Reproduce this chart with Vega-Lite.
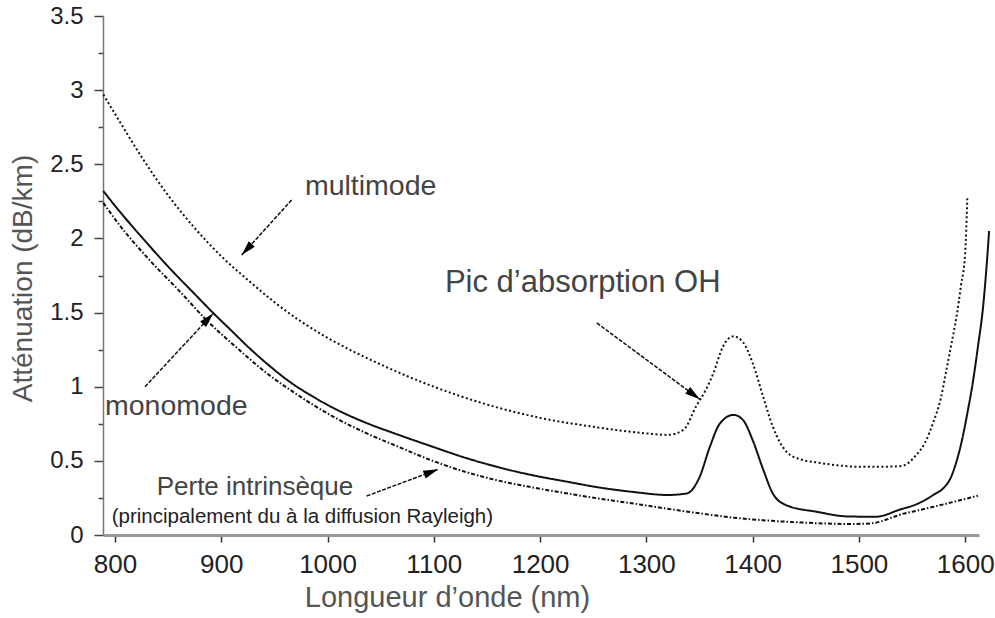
{
  "$schema": "https://vega.github.io/schema/vega-lite/v6.json",
  "width": 876,
  "height": 519,
  "autosize": {"type": "none"},
  "padding": {"left": 103, "top": 16, "right": 16, "bottom": 83},
  "background": "white",
  "config": {"view": {"stroke": null}, "font": "Liberation Sans"},
  "datasets": {
    "curves": [
      {"series": "multimode", "wl": 789, "att": 2.97},
      {"series": "multimode", "wl": 800, "att": 2.84},
      {"series": "multimode", "wl": 825, "att": 2.55},
      {"series": "multimode", "wl": 850, "att": 2.29},
      {"series": "multimode", "wl": 875, "att": 2.07},
      {"series": "multimode", "wl": 900, "att": 1.88},
      {"series": "multimode", "wl": 925, "att": 1.72},
      {"series": "multimode", "wl": 950, "att": 1.57},
      {"series": "multimode", "wl": 975, "att": 1.44},
      {"series": "multimode", "wl": 1000, "att": 1.33},
      {"series": "multimode", "wl": 1050, "att": 1.15},
      {"series": "multimode", "wl": 1100, "att": 1.0},
      {"series": "multimode", "wl": 1150, "att": 0.88},
      {"series": "multimode", "wl": 1200, "att": 0.79},
      {"series": "multimode", "wl": 1250, "att": 0.73},
      {"series": "multimode", "wl": 1300, "att": 0.685},
      {"series": "multimode", "wl": 1320, "att": 0.675},
      {"series": "multimode", "wl": 1335, "att": 0.71},
      {"series": "multimode", "wl": 1347, "att": 0.87},
      {"series": "multimode", "wl": 1356, "att": 0.98},
      {"series": "multimode", "wl": 1363, "att": 1.09},
      {"series": "multimode", "wl": 1372, "att": 1.27},
      {"series": "multimode", "wl": 1382, "att": 1.34},
      {"series": "multimode", "wl": 1391, "att": 1.3},
      {"series": "multimode", "wl": 1400, "att": 1.16},
      {"series": "multimode", "wl": 1410, "att": 0.93},
      {"series": "multimode", "wl": 1419, "att": 0.73},
      {"series": "multimode", "wl": 1432, "att": 0.56},
      {"series": "multimode", "wl": 1445, "att": 0.51},
      {"series": "multimode", "wl": 1460, "att": 0.49},
      {"series": "multimode", "wl": 1480, "att": 0.47},
      {"series": "multimode", "wl": 1500, "att": 0.46},
      {"series": "multimode", "wl": 1520, "att": 0.46},
      {"series": "multimode", "wl": 1540, "att": 0.465},
      {"series": "multimode", "wl": 1554, "att": 0.54},
      {"series": "multimode", "wl": 1562, "att": 0.62},
      {"series": "multimode", "wl": 1570, "att": 0.76},
      {"series": "multimode", "wl": 1577, "att": 0.92},
      {"series": "multimode", "wl": 1582, "att": 1.1},
      {"series": "multimode", "wl": 1586, "att": 1.25},
      {"series": "multimode", "wl": 1592, "att": 1.48},
      {"series": "multimode", "wl": 1596, "att": 1.68},
      {"series": "multimode", "wl": 1600, "att": 1.9},
      {"series": "multimode", "wl": 1602, "att": 2.27},
      {"series": "monomode", "wl": 789, "att": 2.32},
      {"series": "monomode", "wl": 800, "att": 2.22},
      {"series": "monomode", "wl": 825, "att": 2.01},
      {"series": "monomode", "wl": 850, "att": 1.81},
      {"series": "monomode", "wl": 875, "att": 1.625},
      {"series": "monomode", "wl": 892, "att": 1.5},
      {"series": "monomode", "wl": 910, "att": 1.375},
      {"series": "monomode", "wl": 925, "att": 1.27},
      {"series": "monomode", "wl": 943, "att": 1.155},
      {"series": "monomode", "wl": 965, "att": 1.03},
      {"series": "monomode", "wl": 987, "att": 0.93},
      {"series": "monomode", "wl": 1010, "att": 0.84},
      {"series": "monomode", "wl": 1035, "att": 0.76},
      {"series": "monomode", "wl": 1065, "att": 0.68},
      {"series": "monomode", "wl": 1097, "att": 0.6},
      {"series": "monomode", "wl": 1130, "att": 0.52},
      {"series": "monomode", "wl": 1162, "att": 0.455},
      {"series": "monomode", "wl": 1195, "att": 0.4},
      {"series": "monomode", "wl": 1225, "att": 0.36},
      {"series": "monomode", "wl": 1256, "att": 0.32},
      {"series": "monomode", "wl": 1288, "att": 0.29},
      {"series": "monomode", "wl": 1320, "att": 0.27},
      {"series": "monomode", "wl": 1338, "att": 0.28},
      {"series": "monomode", "wl": 1350, "att": 0.39},
      {"series": "monomode", "wl": 1360, "att": 0.6},
      {"series": "monomode", "wl": 1369, "att": 0.75},
      {"series": "monomode", "wl": 1382, "att": 0.81},
      {"series": "monomode", "wl": 1391, "att": 0.775},
      {"series": "monomode", "wl": 1400, "att": 0.64},
      {"series": "monomode", "wl": 1410, "att": 0.44},
      {"series": "monomode", "wl": 1419, "att": 0.28},
      {"series": "monomode", "wl": 1432, "att": 0.2},
      {"series": "monomode", "wl": 1460, "att": 0.157},
      {"series": "monomode", "wl": 1490, "att": 0.125},
      {"series": "monomode", "wl": 1516, "att": 0.123},
      {"series": "monomode", "wl": 1538, "att": 0.17},
      {"series": "monomode", "wl": 1555, "att": 0.21},
      {"series": "monomode", "wl": 1570, "att": 0.27},
      {"series": "monomode", "wl": 1580, "att": 0.32},
      {"series": "monomode", "wl": 1586, "att": 0.38},
      {"series": "monomode", "wl": 1592, "att": 0.5},
      {"series": "monomode", "wl": 1597, "att": 0.64},
      {"series": "monomode", "wl": 1602, "att": 0.82},
      {"series": "monomode", "wl": 1607, "att": 1.02},
      {"series": "monomode", "wl": 1612, "att": 1.27},
      {"series": "monomode", "wl": 1617, "att": 1.55},
      {"series": "monomode", "wl": 1620, "att": 1.8},
      {"series": "monomode", "wl": 1622.5, "att": 2.05},
      {"series": "rayleigh", "wl": 789, "att": 2.24},
      {"series": "rayleigh", "wl": 800, "att": 2.13},
      {"series": "rayleigh", "wl": 833, "att": 1.85},
      {"series": "rayleigh", "wl": 860, "att": 1.65},
      {"series": "rayleigh", "wl": 886, "att": 1.45},
      {"series": "rayleigh", "wl": 915, "att": 1.26},
      {"series": "rayleigh", "wl": 943, "att": 1.09},
      {"series": "rayleigh", "wl": 974, "att": 0.935},
      {"series": "rayleigh", "wl": 987, "att": 0.875},
      {"series": "rayleigh", "wl": 1010, "att": 0.78},
      {"series": "rayleigh", "wl": 1037, "att": 0.685},
      {"series": "rayleigh", "wl": 1065, "att": 0.6},
      {"series": "rayleigh", "wl": 1099, "att": 0.5},
      {"series": "rayleigh", "wl": 1130, "att": 0.425},
      {"series": "rayleigh", "wl": 1162, "att": 0.365},
      {"series": "rayleigh", "wl": 1195, "att": 0.318},
      {"series": "rayleigh", "wl": 1225, "att": 0.281},
      {"series": "rayleigh", "wl": 1256, "att": 0.245},
      {"series": "rayleigh", "wl": 1288, "att": 0.212},
      {"series": "rayleigh", "wl": 1319, "att": 0.178},
      {"series": "rayleigh", "wl": 1350, "att": 0.146},
      {"series": "rayleigh", "wl": 1382, "att": 0.117},
      {"series": "rayleigh", "wl": 1415, "att": 0.097},
      {"series": "rayleigh", "wl": 1444, "att": 0.085},
      {"series": "rayleigh", "wl": 1470, "att": 0.077},
      {"series": "rayleigh", "wl": 1492, "att": 0.074},
      {"series": "rayleigh", "wl": 1510, "att": 0.078},
      {"series": "rayleigh", "wl": 1520, "att": 0.09},
      {"series": "rayleigh", "wl": 1530, "att": 0.115},
      {"series": "rayleigh", "wl": 1540, "att": 0.14},
      {"series": "rayleigh", "wl": 1555, "att": 0.165},
      {"series": "rayleigh", "wl": 1570, "att": 0.19},
      {"series": "rayleigh", "wl": 1590, "att": 0.225},
      {"series": "rayleigh", "wl": 1612, "att": 0.265}
    ],
    "arrows": [
      {"arrow": "multimode", "wl": 966.2, "att": 2.259, "wl2": 919.2, "att2": 1.888},
      {"arrow": "monomode", "wl": 828.2, "att": 1.0, "wl2": 892.5, "att2": 1.495},
      {"arrow": "oh", "wl": 1253.4, "att": 1.43, "wl2": 1350.3, "att2": 0.915},
      {"arrow": "perte", "wl": 1036.8, "att": 0.263, "wl2": 1104.2, "att2": 0.443}
    ],
    "labels": [
      {"label": "multimode", "kind": "mid", "wl": 978.7, "att": 2.293},
      {"label": "monomode", "kind": "mid", "wl": 790.6, "att": 0.809},
      {"label": "Pic d’absorption OH", "kind": "big", "wl": 1110.4, "att": 1.639},
      {"label": "Perte intrinsèque", "kind": "small", "wl": 839.2, "att": 0.27}
    ],
    "notes": [
      {"label": "(principalement du à la diffusion Rayleigh)", "wl": 796.9, "att": 0.081}
    ]
  },
  "encoding": {
    "x": {
      "field": "wl", "type": "quantitative",
      "scale": {"domain": [788.7, 1613], "nice": false, "zero": false},
      "axis": {
        "title": "Longueur d’onde (nm)",
        "values": [800, 900, 1000, 1100, 1200, 1300, 1400, 1500, 1600],
        "format": "d",
        "grid": false,
        "labelFont": "Liberation Sans", "labelFontSize": 26, "labelColor": "#222",
        "labelPadding": 9, "labelFlush": false, "labelOverlap": false,
        "tickSize": 7, "tickWidth": 1.5, "tickColor": "#333",
        "domainColor": "#999", "domainWidth": 3,
        "titleFont": "Liberation Sans", "titleFontSize": 29, "titleFontWeight": "normal", "titleColor": "#555",
        "titleX": 344, "titleY": 71, "titleBaseline": "alphabetic", "titleAlign": "center"
      }
    },
    "y": {
      "field": "att", "type": "quantitative",
      "scale": {"domain": [0, 3.5], "nice": false},
      "axis": {
        "title": "Atténuation (dB/km)",
        "values": [0, 0.25, 0.5, 0.75, 1, 1.25, 1.5, 1.75, 2, 2.25, 2.5, 2.75, 3, 3.25, 3.5],
        "labelExpr": "datum.value % 0.5 === 0 ? '' + datum.value : ''",
        "grid": false,
        "labelFont": "Liberation Sans", "labelFontSize": 24, "labelColor": "#222",
        "labelPadding": 11, "labelFlush": false, "labelOverlap": false,
        "tickSize": {"condition": {"test": "datum.value % 0.5 === 0", "value": 9}, "value": 5},
        "tickWidth": 1.5, "tickColor": "#444",
        "domainColor": "#777", "domainWidth": 1.5,
        "titleFont": "Liberation Sans", "titleFontSize": 28, "titleFontWeight": "normal", "titleColor": "#555",
        "titleX": -80, "titleY": 262, "titleBaseline": "middle", "titleAlign": "center"
      }
    }
  },
  "layer": [
    {
      "data": {"name": "curves"},
      "mark": {"type": "line", "strokeWidth": 2, "color": "#111", "interpolate": "monotone"},
      "encoding": {
        "detail": {"field": "series"},
        "strokeDash": {
          "field": "series", "type": "nominal",
          "scale": {"domain": ["multimode", "monomode", "rayleigh"], "range": [[2, 2.5], [1, 0], [4, 2, 1.5, 2]]},
          "legend": null
        }
      }
    },
    {
      "data": {"name": "arrows"},
      "mark": {"type": "rule", "strokeWidth": 1.5, "color": "#111", "strokeDash": [4, 1.5]},
      "encoding": {"x2": {"field": "wl2"}, "y2": {"field": "att2"}}
    },
    {
      "data": {"name": "arrows"},
      "transform": [{"filter": "datum.arrow === 'multimode'"}],
      "mark": {"type": "point", "shape": "M0,0L0.55,2L-0.55,2Z", "size": 225, "filled": true, "color": "#000", "opacity": 1, "angle": -137.7},
      "encoding": {"x": {"field": "wl2", "type": "quantitative"}, "y": {"field": "att2", "type": "quantitative"}}
    },
    {
      "data": {"name": "arrows"},
      "transform": [{"filter": "datum.arrow === 'monomode'"}],
      "mark": {"type": "point", "shape": "M0,0L0.55,2L-0.55,2Z", "size": 225, "filled": true, "color": "#000", "opacity": 1, "angle": 42.9},
      "encoding": {"x": {"field": "wl2", "type": "quantitative"}, "y": {"field": "att2", "type": "quantitative"}}
    },
    {
      "data": {"name": "arrows"},
      "transform": [{"filter": "datum.arrow === 'oh'"}],
      "mark": {"type": "point", "shape": "M0,0L0.55,2L-0.55,2Z", "size": 225, "filled": true, "color": "#000", "opacity": 1, "angle": 126.5},
      "encoding": {"x": {"field": "wl2", "type": "quantitative"}, "y": {"field": "att2", "type": "quantitative"}}
    },
    {
      "data": {"name": "arrows"},
      "transform": [{"filter": "datum.arrow === 'perte'"}],
      "mark": {"type": "point", "shape": "M0,0L0.55,2L-0.55,2Z", "size": 225, "filled": true, "color": "#000", "opacity": 1, "angle": 69.5},
      "encoding": {"x": {"field": "wl2", "type": "quantitative"}, "y": {"field": "att2", "type": "quantitative"}}
    },
    {
      "data": {"name": "labels"},
      "mark": {"type": "text", "align": "left", "baseline": "alphabetic", "font": "Liberation Sans", "color": "#444"},
      "encoding": {
        "text": {"field": "label"},
        "size": {
          "field": "kind", "type": "nominal",
          "scale": {"domain": ["big", "mid", "small"], "range": [31, 26, 22]},
          "legend": null
        }
      }
    },
    {
      "data": {"name": "notes"},
      "mark": {"type": "text", "align": "left", "baseline": "alphabetic", "font": "Liberation Sans", "fontSize": 20.5, "color": "#222"},
      "encoding": {"text": {"field": "label"}}
    }
  ]
}
